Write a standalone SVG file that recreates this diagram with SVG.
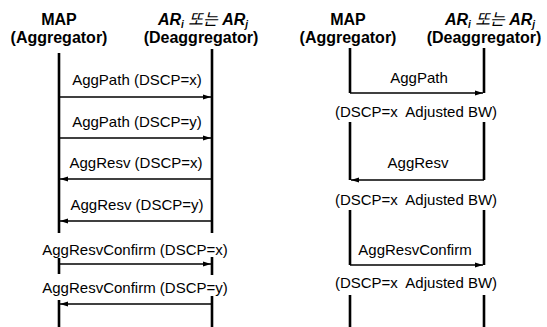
<svg xmlns="http://www.w3.org/2000/svg" width="547" height="327" viewBox="0 0 547 327">
<style>
.hd{font-family:"Liberation Sans","Noto Sans CJK KR",sans-serif;font-weight:bold;font-size:16px;text-anchor:middle;fill:#000}
.it{font-style:italic}
.lb{font-family:"Liberation Sans",Arial,sans-serif;font-size:15px;text-anchor:middle;fill:#000;white-space:pre}
.life{stroke:#000;stroke-width:2.6;fill:none}
.msg{stroke:#000;stroke-width:1.6;fill:none}
</style>
<defs>
<marker id="ah" viewBox="0 0 8 6" refX="8" refY="3" markerWidth="8" markerHeight="6" markerUnits="userSpaceOnUse" orient="auto">
<path d="M0,0.5 L8,3 L0,5.5 Z" fill="#000"/>
</marker>
</defs>
<g id="hdr-left-map"><text class="hd" x="59" y="25">MAP</text><text class="hd" x="59" y="43">(Aggregator)</text></g>
<g id="hdr-left-ar"><text class="hd" x="203" y="25"><tspan class="it">AR</tspan><tspan class="it" font-size="10" dy="3">i</tspan><tspan dy="-3" font-weight="normal" class="it"> 또는 </tspan><tspan class="it">AR</tspan><tspan class="it" font-size="10" dy="3">j</tspan></text><text class="hd" x="201" y="43">(Deaggregator)</text></g>
<g id="hdr-right-map"><text class="hd" x="348" y="25">MAP</text><text class="hd" x="348" y="43">(Aggregator)</text></g>
<g id="hdr-right-ar"><text class="hd" x="490" y="25"><tspan class="it">AR</tspan><tspan class="it" font-size="10" dy="3">i</tspan><tspan dy="-3" font-weight="normal" class="it"> 또는 </tspan><tspan class="it">AR</tspan><tspan class="it" font-size="10" dy="3">j</tspan></text><text class="hd" x="484" y="43">(Deaggregator)</text></g>
<g id="lifelines">
<path class="life" d="M59,53V233M59,258V274M59,300V327"/>
<path class="life" d="M212,49V233M212,257V275M212,296V327"/>
<path class="life" d="M350,48V93M350,122V180M350,210V265M350,295V327"/>
<path class="life" d="M484,48V93M484,122V180M484,210V265M484,295V327"/>
</g>
<g id="connectors">
<line class="msg" x1="59" y1="97" x2="211" y2="97" marker-end="url(#ah)"/>
<line class="msg" x1="59" y1="138" x2="211" y2="138" marker-end="url(#ah)"/>
<line class="msg" x1="212" y1="179" x2="60" y2="179" marker-end="url(#ah)"/>
<line class="msg" x1="212" y1="221" x2="60" y2="221" marker-end="url(#ah)"/>
<line class="msg" x1="59" y1="264" x2="211" y2="264" marker-end="url(#ah)"/>
<line class="msg" x1="212" y1="304" x2="60" y2="304" marker-end="url(#ah)"/>
<line class="msg" x1="350" y1="93" x2="483" y2="93" marker-end="url(#ah)"/>
<line class="msg" x1="484" y1="180" x2="351" y2="180" marker-end="url(#ah)"/>
<line class="msg" x1="350" y1="265" x2="483" y2="265" marker-end="url(#ah)"/>
</g>
<g id="labels">
<text class="lb" x="137" y="85">AggPath (DSCP=x)</text>
<text class="lb" x="137" y="127">AggPath (DSCP=y)</text>
<text class="lb" x="136" y="168">AggResv (DSCP=x)</text>
<text class="lb" x="137" y="210">AggResv (DSCP=y)</text>
<text class="lb" x="135" y="255">AggResvConfirm (DSCP=x)</text>
<text class="lb" x="135" y="293">AggResvConfirm (DSCP=y)</text>
<text class="lb" x="419" y="83">AggPath</text>
<text class="lb" x="416" y="117" xml:space="preserve">(DSCP=x  Adjusted BW)</text>
<text class="lb" x="418" y="168">AggResv</text>
<text class="lb" x="416" y="205" xml:space="preserve">(DSCP=x  Adjusted BW)</text>
<text class="lb" x="415" y="255">AggResvConfirm</text>
<text class="lb" x="416" y="288" xml:space="preserve">(DSCP=x  Adjusted BW)</text>
</g>
</svg>
